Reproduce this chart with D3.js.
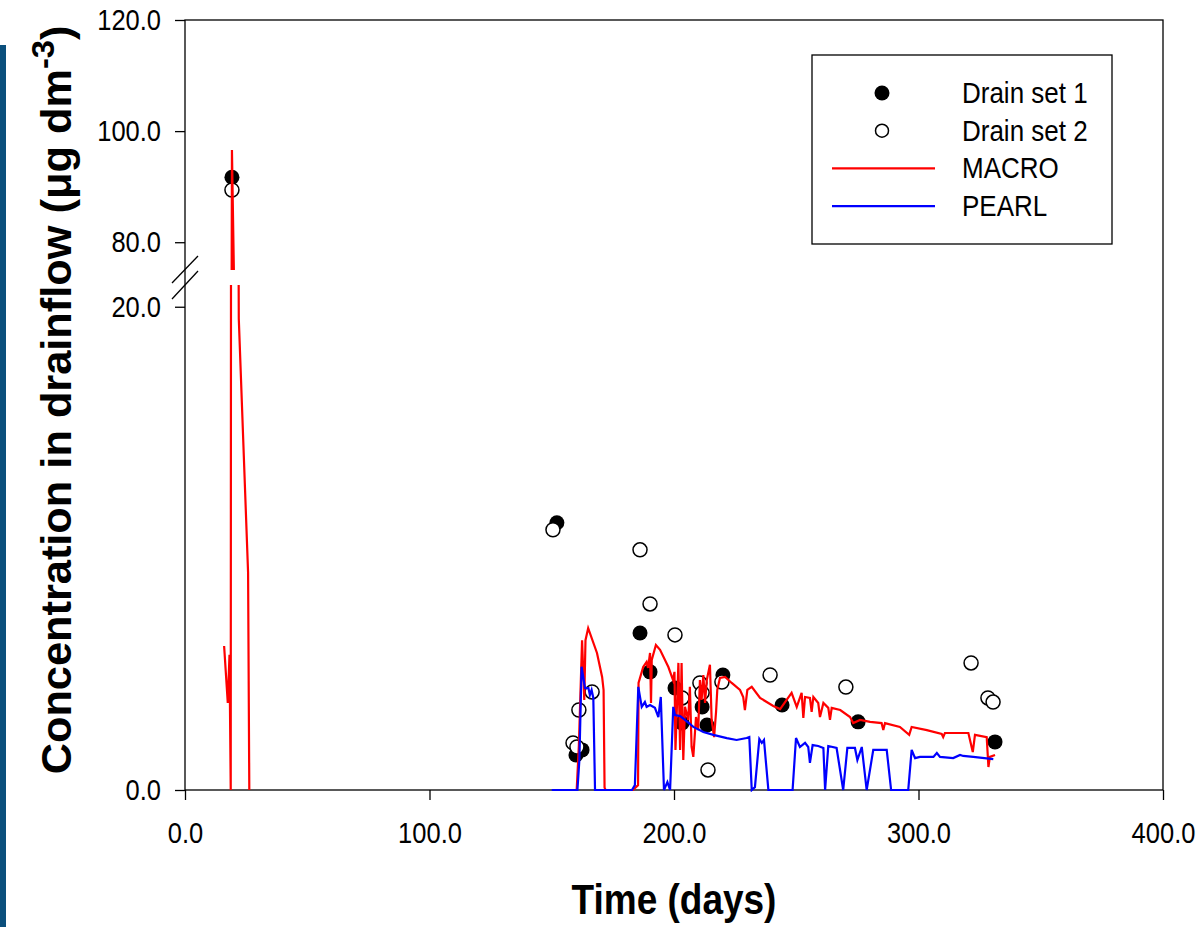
<!DOCTYPE html>
<html>
<head>
<meta charset="utf-8">
<script src="https://cdn.jsdelivr.net/npm/d3@7"></script>
<style>
body { margin: 0; background: #fff; }
svg { display: block; }
</style>
</head>
<body>
<div id="container"></div>
<script>
// tick values
var xTicks = [0, 100, 200, 300, 400];
var yTicksLow = [0, 20];
var yTicksHigh = [80, 100, 120];

// measured concentrations [day, ug/dm3]
var drain1 = [[19.2, 91.7], [152.1, 11.06], [159.9, 1.45], [162.4, 1.66], [186.1, 6.5],
  [190.2, 4.89], [200.4, 4.22], [203.3, 2.77], [211.5, 3.44], [213.5, 2.69],
  [220.0, 4.76], [244.2, 3.52], [275.3, 2.82], [331.3, 1.99]];
var drain2 = [[19.2, 89.4], [150.5, 10.77], [158.7, 1.95], [160.3, 1.78], [161.1, 3.31],
  [166.5, 4.06], [186.1, 9.94], [190.2, 7.7], [200.4, 6.42], [203.3, 3.81],
  [210.6, 4.43], [211.5, 4.02], [213.9, 0.83], [219.6, 4.47], [239.3, 4.76],
  [270.3, 4.26], [321.5, 5.26], [328.4, 3.81], [330.5, 3.64]];

// simulated concentrations (null = no drainflow)
var macro = [[16.0, 5.96], [17.5, 3.6], [18.2, 5.6], [18.7, 0], [19.2, 96.6], [22.0, 19.5],
  [25.8, 9.0], [26.3, 0], null,
  [160.2, 0], [161.1, 1.86], [162.4, 6.2], [163.3, 3.73], [163.8, 6.2], [164.9, 6.7],
  [168.5, 5.67], [170.6, 4.68], [171.2, 4.14], [171.6, 0.1], [172.0, 0], [183.2, 0],
  [185.3, 0.2], [185.5, 4.43], [187.4, 5.09], [188.8, 5.3], [189.4, 5.05], [190.2, 5.67],
  [190.6, 3.6], [190.9, 5.38], [192.6, 6.0], [194.3, 5.8], [197.7, 5.09], [199.6, 4.55],
  [200.2, 4.89], [200.6, 1.66], [201.8, 5.26], [202.5, 1.66], [203.1, 5.26], [203.8, 1.24],
  [204.5, 3.44], [205.8, 2.9], [206.5, 4.27], [207.2, 1.78], [207.9, 1.37], [209.0, 3.02],
  [209.9, 2.48], [210.6, 4.55], [211.3, 3.73], [212.0, 4.76], [212.7, 3.6], [213.4, 4.55],
  [214.7, 5.18], [215.4, 2.9], [216.4, 2.19], [217.2, 3.23], [217.7, 4.14], [218.8, 4.64],
  [220.9, 4.68], [223.6, 4.43], [227.0, 4.14], [228.3, 3.85], [229.0, 3.31], [230.0, 4.14],
  [231.8, 4.27], [235.2, 3.81], [240.6, 3.48], [243.4, 3.35], [248.1, 4.02], [250.2, 3.44],
  [252.2, 4.02], [252.9, 2.98], [253.6, 3.85], [255.6, 3.81], [256.3, 3.23], [257.0, 3.85],
  [259.0, 3.6], [259.7, 3.02], [261.1, 3.6], [263.1, 3.4], [263.8, 2.9], [264.5, 3.4],
  [268.0, 3.31], [272.0, 3.02], [273.3, 2.77], [276.1, 2.9], [280.2, 2.82], [284.9, 2.77],
  [285.6, 2.48], [286.3, 2.77], [292.4, 2.61], [296.2, 2.28], [297.2, 2.61], [303.4, 2.48],
  [309.5, 2.32], [310.1, 2.19], [310.8, 2.36], [320.4, 2.36], [322.2, 1.57], [323.1, 2.28],
  [327.9, 2.19], [328.6, 0.95], [329.2, 1.37], [331.3, 1.45]];
var pearl = [[150.0, 0], [160.5, 0], [161.3, 1.24], [162.2, 5.1], [163.6, 4.22], [165.0, 4.22],
  [165.6, 3.93], [166.3, 4.14], [167.0, 3.81], [167.7, 0], [182.8, 0], [184.0, 0.2],
  [185.4, 4.27], [186.8, 3.44], [188.1, 3.64], [188.8, 3.44], [190.2, 3.52], [192.2, 3.4],
  [193.6, 3.02], [194.6, 3.85], [195.9, 0], [197.3, 0.33], [198.4, 0], [199.7, 3.44],
  [200.4, 3.1], [202.5, 3.06], [204.5, 2.9], [207.9, 2.61], [212.0, 2.4], [216.1, 2.28],
  [221.6, 2.15], [225.6, 2.07], [229.7, 2.15], [230.8, 2.19], [231.8, 0], [233.1, 0.12],
  [234.9, 2.11], [235.9, 1.95], [236.8, 2.07], [238.6, 0], [248.5, 0], [249.9, 2.15],
  [251.5, 1.78], [253.6, 1.95], [254.9, 1.78], [255.6, 1.12], [256.7, 1.86], [259.0, 1.82],
  [261.1, 1.74], [261.8, 0], [263.1, 1.82], [266.5, 1.74], [269.2, 0], [270.9, 1.74],
  [274.0, 1.74], [275.0, 1.24], [276.8, 1.78], [278.8, 0], [281.5, 1.66], [287.0, 1.66],
  [288.8, 0], [295.8, 0], [297.2, 1.66], [298.6, 1.32], [300.6, 1.37], [306.1, 1.37],
  [307.5, 1.53], [308.8, 1.37], [314.2, 1.32], [317.0, 1.45], [318.3, 1.41], [322.4, 1.37],
  [330.6, 1.28]];

var w = 1199, h = 927;
var plotLeft = 185, plotRight = 1163, plotTop = 20, plotBottom = 790;
var breakTop = 270, breakBottom = 285;
var sy = 1.14; // the original glyphs look a bit taller than Arial
var font = "Liberation Sans, Arial, sans-serif";

var svg = d3.select("#container")
  .append("svg")
  .attr("width", w)
  .attr("height", h);

// blue strip on the left edge
svg.append("rect")
  .attr("x", 0).attr("y", 45)
  .attr("width", 6).attr("height", h - 45)
  .attr("fill", "#0b4f7c");

var xScale = d3.scaleLinear().domain([0, 400]).range([plotLeft, plotRight]);
var yHigh = d3.scaleLinear().domain([75, 120]).range([breakTop, plotTop]);
var yLow = d3.scaleLinear().domain([0, 20.9]).range([plotBottom, breakBottom]);

var defs = svg.append("defs");
defs.append("clipPath").attr("id", "clipHigh")
  .append("rect").attr("x", plotLeft).attr("y", plotTop)
  .attr("width", plotRight - plotLeft).attr("height", breakTop - plotTop);
defs.append("clipPath").attr("id", "clipLow")
  .append("rect").attr("x", plotLeft).attr("y", breakBottom)
  .attr("width", plotRight - plotLeft).attr("height", plotBottom - breakBottom + 2);

// frame
svg.append("rect")
  .attr("x", plotLeft).attr("y", plotTop)
  .attr("width", plotRight - plotLeft).attr("height", plotBottom - plotTop)
  .attr("fill", "none").attr("stroke", "#000").attr("stroke-width", 1.3);

function styleAxis(g) {
  g.select(".domain").remove();
  g.selectAll(".tick line").attr("stroke", "#000").attr("stroke-width", 1.3);
  g.selectAll(".tick text")
    .attr("font-family", font)
    .attr("font-size", "25.5px")
    .attr("fill", "#000")
    .each(function() {
      var t = d3.select(this);
      var yy = +t.attr("y") || 0;
      t.attr("y", yy / sy).attr("transform", "scale(1," + sy + ")");
    });
}

svg.append("g")
  .attr("transform", "translate(0," + plotBottom + ")")
  .call(d3.axisBottom(xScale).tickValues(xTicks).tickSize(10).tickPadding(22)
    .tickFormat(d3.format(".1f")))
  .call(styleAxis);

svg.append("g")
  .attr("transform", "translate(" + plotLeft + ",0)")
  .call(d3.axisLeft(yLow).tickValues(yTicksLow).tickSize(10).tickPadding(14)
    .tickFormat(d3.format(".1f")))
  .call(styleAxis);

svg.append("g")
  .attr("transform", "translate(" + plotLeft + ",0)")
  .call(d3.axisLeft(yHigh).tickValues(yTicksHigh).tickSize(10).tickPadding(14)
    .tickFormat(d3.format(".1f")))
  .call(styleAxis);

// axis break marks
var brk = svg.append("g").attr("stroke", "#000").attr("stroke-width", 1.3);
brk.append("line").attr("x1", 172).attr("y1", 283).attr("x2", 198).attr("y2", 256);
brk.append("line").attr("x1", 172).attr("y1", 299).attr("x2", 198).attr("y2", 271);

// one panel per y segment
function drawPanel(yScale, clipId, inPanel) {
  var g = svg.append("g").attr("clip-path", "url(#" + clipId + ")");

  g.selectAll("circle.d1")
    .data(drain1.filter(inPanel))
    .enter()
    .append("circle")
    .attr("class", "d1")
    .attr("cx", function(d) { return xScale(d[0]); })
    .attr("cy", function(d) { return yScale(d[1]); })
    .attr("r", 7.5)
    .attr("fill", "#000");

  g.selectAll("circle.d2")
    .data(drain2.filter(inPanel))
    .enter()
    .append("circle")
    .attr("class", "d2")
    .attr("cx", function(d) { return xScale(d[0]); })
    .attr("cy", function(d) { return yScale(d[1]); })
    .attr("r", 7)
    .attr("fill", "#fff")
    .attr("stroke", "#000")
    .attr("stroke-width", 1.5);

  var line = d3.line()
    .defined(function(d) { return d != null; })
    .x(function(d) { return xScale(d[0]); })
    .y(function(d) { return yScale(d[1]); });

  g.append("path")
    .datum(macro)
    .attr("d", line)
    .attr("fill", "none")
    .attr("stroke", "#ff0000")
    .attr("stroke-width", 2.2);

  g.append("path")
    .datum(pearl)
    .attr("d", line)
    .attr("fill", "none")
    .attr("stroke", "#0000ff")
    .attr("stroke-width", 2.2);
}

drawPanel(yHigh, "clipHigh", function(d) { return d[1] > 75; });
drawPanel(yLow, "clipLow", function(d) { return d[1] <= 20.9; });

// legend
var legend = svg.append("g");
legend.append("rect")
  .attr("x", 812).attr("y", 55)
  .attr("width", 300).attr("height", 189)
  .attr("fill", "#fff").attr("stroke", "#000").attr("stroke-width", 1.3);

var legendItems = ["Drain set 1", "Drain set 2", "MACRO", "PEARL"];
legendItems.forEach(function(name, i) {
  var cy = 93 + i * 37.7;
  if (i === 0) {
    legend.append("circle").attr("cx", 882).attr("cy", cy).attr("r", 7.5).attr("fill", "#000");
  } else if (i === 1) {
    legend.append("circle").attr("cx", 882).attr("cy", cy).attr("r", 6.5)
      .attr("fill", "#fff").attr("stroke", "#000").attr("stroke-width", 1.5);
  } else {
    legend.append("line").attr("x1", 832).attr("x2", 935).attr("y1", cy).attr("y2", cy)
      .attr("stroke", i === 2 ? "#ff0000" : "#0000ff").attr("stroke-width", 2.2);
  }
  legend.append("text")
    .attr("transform", "translate(962," + (cy + 10) + ") scale(1," + sy + ")")
    .attr("font-family", font)
    .attr("font-size", "26px")
    .attr("fill", "#000")
    .text(name);
});

// axis titles
svg.append("text")
  .attr("transform", "translate(674,914) scale(1," + sy + ")")
  .attr("text-anchor", "middle")
  .attr("font-family", font)
  .attr("font-weight", "bold")
  .attr("font-size", "37px")
  .attr("fill", "#000")
  .text("Time (days)");

var yTitle = svg.append("text")
  .attr("transform", "translate(71,400) rotate(-90) scale(1.02,1)")
  .attr("text-anchor", "middle")
  .attr("font-family", font)
  .attr("font-weight", "bold")
  .attr("font-size", "42.5px")
  .attr("fill", "#000");
yTitle.append("tspan").text("Concentration in drainflow (\u03bcg dm");
yTitle.append("tspan").attr("dy", -17).attr("font-size", "32px").text("-3");
yTitle.append("tspan").attr("dy", 17).text(")");
</script>
</body>
</html>
